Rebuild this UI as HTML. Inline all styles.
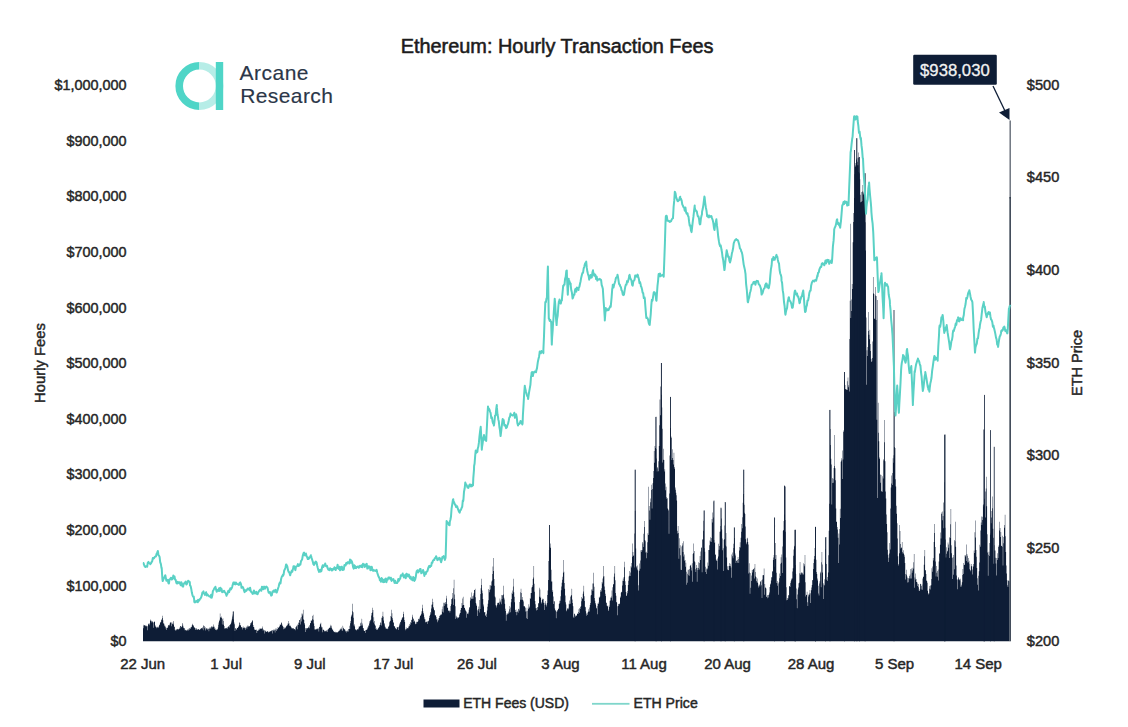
<!DOCTYPE html>
<html><head><meta charset="utf-8">
<style>
html,body{margin:0;padding:0;background:#fff;}
body{width:1128px;height:727px;position:relative;overflow:hidden;font-family:"Liberation Sans",sans-serif;color:#262626;}
.t{position:absolute;white-space:nowrap;line-height:1;}
</style></head><body>
<svg width="1128" height="727" viewBox="0 0 1128 727" style="position:absolute;left:0;top:0">
<path d="M143.00,641.3V624.8H143.41V628.2H143.83V625.9H144.24V625.0H144.65V625.1H145.07V625.5H145.48V626.2H145.89V625.4H146.31V626.4H146.72V626.1H147.13V630.2H147.55V626.2H147.96V624.6H148.37V624.0H148.79V623.1H149.20V623.7H149.61V625.2H150.03V620.8H150.44V619.4H150.85V620.5H151.27V621.2H151.68V622.5H152.09V621.0H152.51V622.0H152.92V622.7H153.33V627.8H153.75V622.0H154.16V621.3H154.57V622.1H154.99V625.2H155.40V626.4H155.81V626.8H156.23V627.2H156.64V628.2H157.05V627.6H157.47V626.7H157.88V627.6H158.29V627.6H158.71V626.2H159.12V624.7H159.53V624.8H159.95V623.0H160.36V622.1H160.77V621.7H161.19V619.6H161.60V619.7H162.01V615.8H162.43V618.1H162.84V620.2H163.25V623.7H163.67V623.0H164.08V624.4H164.49V626.3H164.91V625.8H165.32V627.1H165.73V628.6H166.15V627.7H166.56V630.0H166.97V628.1H167.39V627.8H167.80V626.4H168.21V625.3H168.63V625.0H169.04V624.6H169.45V625.6H169.87V622.8H170.28V622.6H170.70V622.3H171.11V626.2H171.52V622.6H171.94V624.2H172.35V623.8H172.76V622.4H173.18V620.9H173.59V624.4H174.00V627.0H174.42V626.5H174.83V630.0H175.24V630.7H175.66V629.6H176.07V630.3H176.48V629.2H176.90V628.9H177.31V629.4H177.72V628.8H178.14V629.5H178.55V629.3H178.96V628.9H179.38V627.4H179.79V628.4H180.20V626.1H180.62V626.1H181.03V627.2H181.44V626.7H181.86V626.2H182.27V623.0H182.68V624.4H183.10V626.5H183.51V628.0H183.92V628.4H184.34V628.1H184.75V630.2H185.16V630.3H185.58V629.7H185.99V630.1H186.40V631.1H186.82V630.1H187.23V630.5H187.64V629.3H188.06V630.4H188.47V628.8H188.88V630.0H189.30V628.5H189.71V628.1H190.12V628.9H190.54V627.6H190.95V626.9H191.36V627.3H191.78V625.4H192.19V624.8H192.60V623.8H193.02V624.9H193.43V626.1H193.84V627.2H194.26V627.3H194.67V628.0H195.08V630.0H195.50V628.6H195.91V628.1H196.32V628.7H196.74V629.9H197.15V629.3H197.56V629.8H197.98V629.0H198.39V629.1H198.80V630.0H199.22V629.4H199.63V629.9H200.04V629.2H200.46V628.7H200.87V628.4H201.28V628.1H201.70V628.2H202.11V628.4H202.52V627.2H202.94V630.2H203.35V625.2H203.76V625.9H204.18V626.3H204.59V628.2H205.00V627.2H205.42V630.5H205.83V629.2H206.24V628.1H206.66V628.6H207.07V629.8H207.48V628.4H207.90V629.0H208.31V628.4H208.72V631.3H209.14V628.8H209.55V627.6H209.96V628.6H210.38V627.3H210.79V628.5H211.20V626.8H211.62V626.3H212.03V627.4H212.44V626.5H212.86V627.0H213.27V624.5H213.68V626.5H214.10V626.8H214.51V628.7H214.92V628.3H215.34V629.9H215.75V629.4H216.16V629.6H216.58V630.2H216.99V629.7H217.40V629.0H217.82V627.4H218.23V624.8H218.64V622.5H219.06V620.9H219.47V619.7H219.88V613.6H220.30V617.5H220.71V617.2H221.12V618.1H221.54V616.5H221.95V624.4H222.36V619.3H222.78V618.2H223.19V621.0H223.60V624.7H224.02V626.1H224.43V628.5H224.85V628.7H225.26V628.3H225.67V628.1H226.09V628.3H226.50V627.8H226.91V629.0H227.33V627.6H227.74V627.2H228.15V626.6H228.57V626.3H228.98V627.4H229.39V625.3H229.81V624.9H230.22V623.7H230.63V624.3H231.05V622.5H231.46V620.4H231.87V618.7H232.29V616.4H232.70V614.4H233.11V611.5H233.53V619.6H233.94V622.5H234.35V624.2H234.77V630.9H235.18V628.4H235.59V628.0H236.01V629.7H236.42V629.2H236.83V627.8H237.25V628.0H237.66V628.1H238.07V626.9H238.49V626.3H238.90V625.2H239.31V622.3H239.73V623.1H240.14V624.9H240.55V625.6H240.97V627.5H241.38V627.0H241.79V626.7H242.21V629.5H242.62V627.8H243.03V626.6H243.45V628.1H243.86V628.2H244.27V627.6H244.69V627.5H245.10V628.0H245.51V629.7H245.93V626.4H246.34V627.5H246.75V628.8H247.17V625.6H247.58V626.7H247.99V626.4H248.41V625.7H248.82V627.0H249.23V626.0H249.65V625.9H250.06V623.0H250.47V624.7H250.89V623.3H251.30V622.2H251.71V621.7H252.13V621.0H252.54V620.1H252.95V625.1H253.37V626.9H253.78V627.0H254.19V630.1H254.61V628.8H255.02V630.1H255.43V629.8H255.85V630.0H256.26V629.5H256.67V632.9H257.09V630.9H257.50V630.7H257.91V629.7H258.33V630.7H258.74V629.4H259.15V629.8H259.57V628.6H259.98V628.7H260.39V628.5H260.81V628.7H261.22V628.2H261.63V629.0H262.05V628.2H262.46V626.6H262.87V630.8H263.29V629.3H263.70V629.9H264.11V630.3H264.53V633.4H264.94V630.7H265.35V630.8H265.77V632.1H266.18V631.8H266.59V631.8H267.01V631.2H267.42V631.3H267.83V631.6H268.25V632.2H268.66V632.5H269.07V631.4H269.49V631.9H269.90V630.9H270.31V631.3H270.73V631.4H271.14V630.8H271.55V630.6H271.97V629.9H272.38V633.6H272.79V630.3H273.21V630.7H273.62V629.5H274.03V629.5H274.45V630.5H274.86V632.5H275.27V628.6H275.69V630.0H276.10V630.9H276.51V628.6H276.93V629.2H277.34V629.2H277.75V627.1H278.17V627.6H278.58V628.1H279.00V627.0H279.41V626.1H279.82V624.6H280.24V624.5H280.65V625.0H281.06V623.0H281.48V622.3H281.89V624.4H282.30V625.8H282.72V626.2H283.13V629.2H283.54V627.0H283.96V628.6H284.37V628.4H284.78V627.0H285.20V628.3H285.61V627.5H286.02V626.5H286.44V625.8H286.85V625.8H287.26V625.0H287.68V623.6H288.09V623.7H288.50V620.9H288.92V623.3H289.33V625.6H289.74V626.1H290.16V625.5H290.57V626.4H290.98V627.5H291.40V627.5H291.81V628.8H292.22V628.1H292.64V628.4H293.05V628.7H293.46V628.1H293.88V629.5H294.29V628.9H294.70V629.0H295.12V627.2H295.53V630.3H295.94V627.3H296.36V626.1H296.77V625.6H297.18V624.6H297.60V629.3H298.01V625.0H298.42V622.6H298.84V623.1H299.25V619.9H299.66V619.9H300.08V618.4H300.49V624.4H300.90V617.0H301.32V621.5H301.73V613.4H302.14V615.6H302.56V613.7H302.97V609.7H303.38V619.2H303.80V620.0H304.21V623.0H304.62V624.5H305.04V628.2H305.45V632.0H305.86V628.1H306.28V629.4H306.69V628.1H307.10V627.9H307.52V628.5H307.93V627.8H308.34V627.3H308.76V626.3H309.17V624.9H309.58V628.2H310.00V622.9H310.41V623.2H310.82V620.5H311.24V620.3H311.65V621.0H312.06V619.2H312.48V616.0H312.89V614.7H313.30V619.8H313.72V623.5H314.13V625.9H314.54V629.6H314.96V629.1H315.37V629.4H315.78V630.0H316.20V629.0H316.61V628.7H317.02V629.2H317.44V628.6H317.85V628.4H318.26V628.6H318.68V631.5H319.09V626.8H319.50V627.0H319.92V624.4H320.33V623.8H320.74V622.7H321.16V626.4H321.57V627.4H321.98V627.2H322.40V632.2H322.81V629.6H323.22V629.7H323.64V630.1H324.05V630.7H324.46V631.6H324.88V630.7H325.29V631.6H325.70V630.9H326.12V631.5H326.53V630.2H326.94V630.3H327.36V632.0H327.77V629.2H328.18V629.2H328.60V628.5H329.01V628.0H329.42V627.5H329.84V628.0H330.25V626.3H330.66V624.7H331.08V625.8H331.49V627.8H331.90V628.8H332.32V629.7H332.73V629.7H333.15V631.4H333.56V631.1H333.97V631.9H334.39V631.8H334.80V632.4H335.21V631.8H335.63V632.6H336.04V632.1H336.45V632.6H336.87V632.8H337.28V632.2H337.69V632.0H338.11V631.6H338.52V631.3H338.93V630.4H339.35V630.8H339.76V629.4H340.17V629.5H340.59V628.4H341.00V629.1H341.41V627.4H341.83V630.6H342.24V630.7H342.65V625.7H343.07V627.8H343.48V628.2H343.89V628.9H344.31V629.5H344.72V629.3H345.13V630.6H345.55V631.4H345.96V631.1H346.37V632.4H346.79V630.8H347.20V630.5H347.61V631.8H348.03V631.6H348.44V629.1H348.85V629.0H349.27V625.8H349.68V629.0H350.09V623.3H350.51V620.9H350.92V616.8H351.33V615.4H351.75V614.5H352.16V611.3H352.57V603.7H352.99V612.2H353.40V617.7H353.81V625.4H354.23V624.2H354.64V626.5H355.05V629.2H355.47V629.6H355.88V629.9H356.29V630.6H356.71V629.5H357.12V629.0H357.53V629.5H357.95V629.4H358.36V628.2H358.77V626.5H359.19V626.8H359.60V626.3H360.01V625.9H360.43V623.3H360.84V622.4H361.25V625.5H361.67V618.7H362.08V623.5H362.49V625.6H362.91V627.9H363.32V628.2H363.73V630.4H364.15V631.0H364.56V630.9H364.97V633.0H365.39V630.3H365.80V630.1H366.21V629.8H366.63V629.8H367.04V629.2H367.45V627.4H367.87V627.4H368.28V625.2H368.69V626.0H369.11V623.6H369.52V621.2H369.93V621.3H370.35V620.1H370.76V619.6H371.17V615.5H371.59V612.9H372.00V612.5H372.41V607.7H372.83V609.9H373.24V622.6H373.65V617.3H374.07V621.1H374.48V624.2H374.89V624.9H375.31V626.1H375.72V628.9H376.13V628.3H376.55V630.0H376.96V629.9H377.37V629.3H377.79V628.8H378.20V627.7H378.61V627.7H379.03V626.9H379.44V625.5H379.85V625.0H380.27V622.3H380.68V623.0H381.09V625.5H381.51V617.7H381.92V617.7H382.33V615.9H382.75V611.7H383.16V616.8H383.57V620.6H383.99V622.9H384.40V624.2H384.81V626.4H385.23V627.2H385.64V628.6H386.05V628.6H386.47V628.8H386.88V629.2H387.30V628.3H387.71V629.0H388.12V626.5H388.54V626.7H388.95V625.4H389.36V622.2H389.78V621.2H390.19V620.7H390.60V616.0H391.02V616.8H391.43V609.7H391.84V613.2H392.26V618.1H392.67V619.8H393.08V622.0H393.50V622.9H393.91V625.9H394.32V626.3H394.74V626.7H395.15V628.0H395.56V628.4H395.98V629.4H396.39V629.1H396.80V627.2H397.22V627.6H397.63V627.0H398.04V626.9H398.46V630.0H398.87V626.3H399.28V623.6H399.70V624.7H400.11V621.8H400.52V622.3H400.94V620.3H401.35V619.8H401.76V618.4H402.18V617.2H402.59V617.5H403.00V614.0H403.42V611.7H403.83V617.2H404.24V620.0H404.66V622.1H405.07V629.0H405.48V630.3H405.90V627.2H406.31V629.3H406.72V628.4H407.14V627.9H407.55V628.2H407.96V628.2H408.38V626.8H408.79V625.8H409.20V626.2H409.62V624.1H410.03V624.7H410.44V621.9H410.86V623.0H411.27V619.7H411.68V620.0H412.10V616.8H412.51V614.7H412.92V618.2H413.34V618.9H413.75V622.1H414.16V620.4H414.58V621.2H414.99V624.2H415.40V623.7H415.82V622.2H416.23V621.7H416.64V623.8H417.06V621.7H417.47V622.0H417.88V621.2H418.30V618.9H418.71V618.8H419.12V619.6H419.54V617.4H419.95V615.7H420.36V615.7H420.78V614.7H421.19V613.7H421.60V611.3H422.02V608.2H422.43V604.7H422.84V611.2H423.26V613.0H423.67V614.5H424.08V617.3H424.50V619.3H424.91V619.2H425.32V622.2H425.74V622.3H426.15V621.6H426.56V622.1H426.98V624.0H427.39V621.2H427.80V621.7H428.22V620.8H428.63V620.7H429.04V618.1H429.46V615.9H429.87V614.9H430.28V612.0H430.70V613.4H431.11V608.5H431.52V604.8H431.94V604.5H432.35V598.8H432.76V602.1H433.18V608.4H433.59V606.9H434.00V609.9H434.42V610.6H434.83V615.2H435.24V615.2H435.66V615.6H436.07V617.1H436.48V619.6H436.90V618.9H437.31V622.2H437.72V620.4H438.14V620.2H438.55V618.3H438.96V617.9H439.38V615.7H439.79V616.0H440.20V615.1H440.62V614.6H441.03V614.5H441.45V614.4H441.86V609.3H442.27V611.8H442.69V606.6H443.10V612.4H443.51V602.8H443.93V606.0H444.34V603.3H444.75V602.4H445.17V602.1H445.58V604.2H445.99V598.5H446.41V595.8H446.82V604.0H447.23V607.9H447.65V607.4H448.06V610.6H448.47V610.7H448.89V610.9H449.30V610.4H449.71V612.5H450.13V611.0H450.54V605.9H450.95V604.2H451.37V598.9H451.78V599.2H452.19V597.8H452.61V592.9H453.02V605.1H453.43V588.3H453.85V579.8H454.26V594.6H454.67V599.2H455.09V606.2H455.50V619.0H455.91V615.7H456.33V616.7H456.74V618.0H457.15V618.4H457.57V617.0H457.98V617.2H458.39V617.9H458.81V617.1H459.22V614.8H459.63V613.6H460.05V612.9H460.46V609.9H460.87V608.1H461.29V608.0H461.70V602.9H462.11V605.6H462.53V598.5H462.94V596.8H463.35V605.0H463.77V605.1H464.18V608.0H464.59V607.8H465.01V609.4H465.42V610.4H465.83V611.3H466.25V617.7H466.66V611.8H467.07V613.7H467.49V613.5H467.90V614.2H468.31V612.4H468.73V609.8H469.14V607.8H469.55V607.0H469.97V600.6H470.38V597.2H470.79V598.3H471.21V599.0H471.62V592.6H472.03V596.3H472.45V598.7H472.86V598.7H473.27V595.6H473.69V593.2H474.10V589.9H474.51V590.1H474.93V588.8H475.34V597.2H475.75V603.1H476.17V605.9H476.58V604.6H476.99V609.7H477.41V616.1H477.82V610.7H478.23V609.1H478.65V606.6H479.06V612.6H479.47V600.0H479.89V609.1H480.30V594.1H480.71V588.3H481.13V578.8H481.54V584.9H481.95V590.6H482.37V593.3H482.78V599.1H483.19V604.5H483.61V606.4H484.02V611.9H484.43V612.4H484.85V612.1H485.26V615.9H485.67V615.0H486.09V617.0H486.50V613.8H486.91V610.5H487.33V606.8H487.74V603.8H488.15V600.3H488.57V589.0H488.98V589.9H489.39V592.2H489.81V584.9H490.22V589.5H490.63V585.6H491.05V585.7H491.46V581.6H491.87V580.4H492.29V574.0H492.70V566.4H493.11V557.9H493.53V570.9H493.94V579.1H494.35V585.8H494.77V596.6H495.18V597.4H495.60V605.2H496.01V605.8H496.42V607.5H496.84V605.1H497.25V603.2H497.66V602.7H498.08V603.1H498.49V602.7H498.90V601.7H499.32V604.6H499.73V598.4H500.14V602.3H500.56V600.6H500.97V604.2H501.38V594.9H501.80V599.0H502.21V595.4H502.62V595.1H503.04V594.4H503.45V585.8H503.86V597.8H504.28V599.6H504.69V603.7H505.10V608.8H505.52V611.0H505.93V620.7H506.34V614.8H506.76V613.2H507.17V613.5H507.58V614.4H508.00V613.7H508.41V611.6H508.82V612.7H509.24V609.2H509.65V605.9H510.06V607.4H510.48V612.2H510.89V602.3H511.30V598.9H511.72V592.7H512.13V594.1H512.54V590.5H512.96V586.5H513.37V578.8H513.78V592.3H514.20V596.7H514.61V602.2H515.02V612.1H515.44V610.1H515.85V609.5H516.26V612.0H516.68V615.3H517.09V611.9H517.50V610.7H517.92V612.7H518.33V609.1H518.74V608.8H519.16V610.5H519.57V602.0H519.98V599.7H520.40V592.3H520.81V588.8H521.22V593.1H521.64V599.7H522.05V597.1H522.46V599.8H522.88V600.3H523.29V601.5H523.70V606.2H524.12V606.3H524.53V606.2H524.94V607.6H525.36V611.5H525.77V607.7H526.18V618.2H526.60V611.2H527.01V619.1H527.42V610.8H527.84V607.7H528.25V609.0H528.66V604.2H529.08V606.5H529.49V607.7H529.90V598.1H530.32V599.1H530.73V593.0H531.14V593.1H531.56V587.5H531.97V587.0H532.38V585.3H532.80V579.0H533.21V577.4H533.62V565.9H534.04V583.7H534.45V591.7H534.86V601.0H535.28V604.3H535.69V608.3H536.10V608.0H536.52V610.4H536.93V610.1H537.34V607.1H537.76V607.3H538.17V602.9H538.58V603.6H539.00V596.8H539.41V587.8H539.82V589.6H540.24V598.0H540.65V596.7H541.06V603.6H541.48V602.2H541.89V599.9H542.30V599.2H542.72V598.4H543.13V602.7H543.54V599.1H543.96V602.8H544.37V610.0H544.78V605.1H545.20V601.0H545.61V603.4H546.02V604.7H546.44V606.5H546.85V602.9H547.26V594.9H547.68V590.6H548.09V580.1H548.50V561.1H548.92V550.1H549.33V524.9H549.75V546.8H550.16V543.4H550.57V548.0H550.99V569.7H551.40V581.6H551.81V581.5H552.23V592.1H552.64V590.3H553.05V596.5H553.47V604.0H553.88V601.1H554.29V601.5H554.71V608.6H555.12V610.1H555.53V610.8H555.95V618.3H556.36V611.6H556.77V611.8H557.19V610.6H557.60V610.1H558.01V608.4H558.43V609.1H558.84V603.9H559.25V600.7H559.67V603.3H560.08V596.3H560.49V600.7H560.91V590.3H561.32V586.6H561.73V582.7H562.15V576.8H562.56V579.8H562.97V572.8H563.39V559.9H563.80V571.8H564.21V582.9H564.63V588.8H565.04V595.5H565.45V602.3H565.87V604.6H566.28V611.3H566.69V610.3H567.11V608.7H567.52V608.2H567.93V607.8H568.35V609.2H568.76V603.7H569.17V604.2H569.59V600.6H570.00V603.8H570.41V596.7H570.83V595.7H571.24V595.1H571.65V588.8H572.07V599.4H572.48V603.0H572.89V606.3H573.31V616.7H573.72V618.0H574.13V613.4H574.55V613.9H574.96V615.3H575.37V616.7H575.79V616.0H576.20V615.2H576.61V615.8H577.03V613.9H577.44V613.2H577.85V614.1H578.27V611.9H578.68V609.3H579.09V607.9H579.51V613.0H579.92V609.0H580.33V607.1H580.75V606.1H581.16V601.3H581.57V596.9H581.99V598.3H582.40V598.7H582.81V593.8H583.23V591.4H583.64V585.8H584.05V596.2H584.47V601.0H584.88V606.8H585.29V607.2H585.71V611.2H586.12V613.6H586.53V615.7H586.95V613.3H587.36V615.0H587.77V612.1H588.19V609.2H588.60V611.5H589.01V611.4H589.43V607.5H589.84V605.0H590.25V603.0H590.67V595.6H591.08V595.0H591.49V589.4H591.91V589.4H592.32V583.5H592.73V590.9H593.15V572.8H593.56V583.4H593.97V586.8H594.39V597.9H594.80V600.8H595.21V603.1H595.63V604.5H596.04V607.7H596.45V608.6H596.87V606.0H597.28V614.2H597.69V603.5H598.11V604.0H598.52V602.4H598.93V596.9H599.35V598.0H599.76V596.5H600.17V591.8H600.59V589.9H601.00V591.6H601.41V588.2H601.83V582.1H602.24V583.4H602.65V578.6H603.07V576.4H603.48V565.9H603.90V576.2H604.31V586.6H604.72V589.9H605.14V593.8H605.55V596.1H605.96V602.5H606.38V602.9H606.79V605.8H607.20V605.8H607.62V606.6H608.03V609.4H608.44V611.1H608.86V605.6H609.27V607.1H609.68V600.7H610.10V600.4H610.51V597.6H610.92V598.1H611.34V596.5H611.75V590.4H612.16V587.2H612.58V600.4H612.99V584.2H613.40V584.2H613.82V576.8H614.23V573.5H614.64V565.9H615.06V580.2H615.47V592.9H615.88V595.8H616.30V602.0H616.71V602.6H617.12V606.3H617.54V615.2H617.95V606.1H618.36V604.1H618.78V603.7H619.19V603.4H619.60V604.3H620.02V597.7H620.43V596.5H620.84V592.7H621.26V591.8H621.67V592.0H622.08V585.6H622.50V580.7H622.91V578.6H623.32V580.9H623.74V577.1H624.15V561.7H624.56V567.2H624.98V581.2H625.39V585.1H625.80V592.0H626.22V596.1H626.63V595.6H627.04V591.0H627.46V593.2H627.87V584.9H628.28V580.7H628.70V576.4H629.11V570.9H629.52V575.8H629.94V576.1H630.35V572.4H630.76V566.2H631.18V567.6H631.59V563.0H632.00V556.8H632.42V543.5H632.83V552.1H633.24V555.9H633.66V555.2H634.07V567.4H634.48V533.5H634.90V510.8H635.31V469.8H635.72V548.6H636.14V566.2H636.55V567.6H636.96V569.4H637.38V565.4H637.79V570.6H638.20V590.5H638.62V585.3H639.03V570.8H639.44V563.5H639.86V568.8H640.27V560.4H640.68V550.2H641.10V550.1H641.51V552.1H641.92V550.2H642.34V541.9H642.75V543.6H643.16V547.0H643.58V533.7H643.99V526.9H644.40V520.9H644.82V540.1H645.23V541.3H645.64V552.5H646.06V558.3H646.47V551.7H646.88V553.1H647.30V542.3H647.71V533.3H648.12V535.0H648.54V486.7H648.95V506.0H649.36V510.5H649.78V519.8H650.19V498.4H650.60V502.3H651.02V484.7H651.43V490.1H651.84V508.5H652.26V489.1H652.67V483.2H653.08V477.9H653.50V470.9H653.91V451.0H654.32V462.8H654.74V445.9H655.15V448.1H655.56V416.9H655.98V449.0H656.39V458.6H656.80V471.4H657.22V467.1H657.63V468.2H658.05V471.3H658.46V461.3H658.87V446.1H659.29V425.2H659.70V399.4H660.11V386.5H660.53V415.3H660.94V363.0H661.35V394.8H661.77V407.6H662.18V428.8H662.59V462.4H663.01V448.7H663.42V459.8H663.83V459.9H664.25V471.4H664.66V469.3H665.07V483.6H665.49V490.3H665.90V486.7H666.31V497.2H666.73V499.0H667.14V498.0H667.55V508.6H667.97V509.6H668.38V510.5H668.79V533.7H669.21V493.6H669.62V455.4H670.03V396.9H670.45V428.0H670.86V436.6H671.27V437.8H671.69V460.1H672.10V449.2H672.51V457.9H672.93V459.9H673.34V464.5H673.75V452.7H674.17V468.7H674.58V466.9H674.99V487.5H675.41V489.8H675.82V492.8H676.23V495.2H676.65V500.5H677.06V533.5H677.47V530.7H677.89V526.0H678.30V533.1H678.71V558.7H679.13V548.2H679.54V538.3H679.95V545.3H680.37V555.2H680.78V569.8H681.19V570.1H681.61V546.6H682.02V543.3H682.43V545.6H682.85V551.9H683.26V541.3H683.67V556.5H684.09V560.7H684.50V554.6H684.91V559.9H685.33V566.7H685.74V562.8H686.15V571.7H686.57V584.7H686.98V582.7H687.39V573.7H687.81V569.7H688.22V575.3H688.63V569.8H689.05V575.8H689.46V569.0H689.87V565.9H690.29V565.2H690.70V564.7H691.11V570.4H691.53V567.6H691.94V563.2H692.35V581.8H692.77V553.9H693.18V553.1H693.59V543.5H694.01V551.0H694.42V561.3H694.83V562.2H695.25V569.3H695.66V571.9H696.07V565.0H696.49V567.9H696.90V581.7H697.31V567.8H697.73V570.1H698.14V568.1H698.55V562.2H698.97V569.6H699.38V563.0H699.79V556.1H700.21V560.0H700.62V551.6H701.03V547.8H701.45V547.5H701.86V572.2H702.27V539.3H702.69V539.7H703.10V530.8H703.51V520.8H703.93V510.6H704.34V548.3H704.75V551.7H705.17V566.8H705.58V572.0H705.99V574.1H706.41V568.5H706.82V569.5H707.23V568.6H707.65V562.5H708.06V565.7H708.47V550.0H708.89V550.0H709.30V545.3H709.71V540.5H710.13V537.2H710.54V541.5H710.95V541.9H711.37V538.0H711.78V519.1H712.20V522.5H712.61V512.4H713.02V501.6H713.44V517.5H713.85V539.9H714.26V542.9H714.68V542.2H715.09V554.7H715.50V554.4H715.92V559.4H716.33V560.6H716.74V561.0H717.16V569.4H717.57V558.5H717.98V556.4H718.40V543.8H718.81V549.7H719.22V546.1H719.64V531.8H720.05V531.5H720.46V526.1H720.88V508.4H721.29V518.5H721.70V529.6H722.12V538.5H722.53V550.2H722.94V548.2H723.36V570.9H723.77V540.1H724.18V538.9H724.60V525.5H725.01V545.5H725.42V502.7H725.84V533.0H726.25V546.5H726.66V557.4H727.08V566.2H727.49V569.4H727.90V570.3H728.32V569.9H728.73V565.9H729.14V566.0H729.56V563.0H729.97V563.7H730.38V566.1H730.80V567.5H731.21V577.7H731.62V554.5H732.04V552.5H732.45V556.2H732.86V558.3H733.28V543.8H733.69V547.9H734.10V538.1H734.52V527.7H734.93V553.5H735.34V555.6H735.76V563.0H736.17V561.1H736.58V560.6H737.00V559.9H737.41V562.7H737.82V557.0H738.24V558.9H738.65V562.9H739.06V550.4H739.48V547.1H739.89V542.3H740.30V547.4H740.72V537.8H741.13V531.7H741.54V524.0H741.96V528.3H742.37V517.3H742.78V502.7H743.20V494.1H743.61V469.8H744.02V504.7H744.44V512.8H744.85V514.1H745.26V526.4H745.68V539.2H746.09V542.6H746.50V544.2H746.92V537.7H747.33V538.5H747.74V541.9H748.16V544.6H748.57V573.4H748.98V563.2H749.40V572.6H749.81V593.7H750.22V573.0H750.64V587.8H751.05V575.5H751.46V580.9H751.88V570.0H752.29V572.4H752.70V569.8H753.12V569.3H753.53V568.9H753.94V567.7H754.36V578.5H754.77V564.0H755.18V576.4H755.60V571.9H756.01V581.0H756.42V577.3H756.84V582.6H757.25V578.5H757.66V582.8H758.08V587.6H758.49V585.7H758.90V584.3H759.32V585.3H759.73V586.5H760.14V581.8H760.56V581.3H760.97V580.3H761.38V585.3H761.80V598.1H762.21V579.6H762.62V575.2H763.04V575.2H763.45V575.1H763.86V568.5H764.28V594.8H764.69V584.0H765.10V587.3H765.52V588.0H765.93V588.5H766.35V596.9H766.76V596.6H767.17V595.0H767.59V598.3H768.00V597.4H768.41V595.1H768.83V594.6H769.24V592.4H769.65V587.0H770.07V584.6H770.48V583.4H770.89V580.6H771.31V577.3H771.72V577.3H772.13V571.1H772.55V571.7H772.96V560.0H773.37V557.4H773.79V554.9H774.20V566.7H774.61V517.4H775.03V559.1H775.44V543.1H775.85V555.0H776.27V572.8H776.68V583.1H777.09V581.0H777.51V585.8H777.92V583.5H778.33V594.8H778.75V582.2H779.16V578.2H779.57V573.6H779.99V576.1H780.40V563.8H780.81V557.2H781.23V562.8H781.64V554.6H782.05V573.0H782.47V546.4H782.88V530.7H783.29V530.0H783.71V521.0H784.12V485.8H784.53V514.6H784.95V519.9H785.36V531.7H785.77V557.4H786.19V587.2H786.60V600.3H787.01V598.0H787.43V600.1H787.84V598.4H788.25V595.0H788.67V595.4H789.08V586.0H789.49V586.2H789.91V587.0H790.32V583.0H790.73V581.2H791.15V579.7H791.56V578.5H791.97V578.6H792.39V571.6H792.80V568.3H793.21V555.7H793.63V549.5H794.04V545.7H794.45V546.5H794.87V529.9H795.28V565.1H795.69V573.8H796.11V588.6H796.52V599.3H796.93V608.2H797.35V594.4H797.76V589.4H798.17V587.6H798.59V583.3H799.00V582.8H799.41V573.3H799.83V561.9H800.24V573.6H800.65V574.9H801.07V572.2H801.48V573.2H801.89V572.6H802.31V573.3H802.72V574.6H803.13V574.5H803.55V563.2H803.96V566.3H804.37V564.2H804.79V554.9H805.20V582.3H805.61V596.6H806.03V594.9H806.44V594.7H806.85V591.8H807.27V602.3H807.68V606.0H808.09V594.5H808.51V596.4H808.92V595.0H809.33V593.5H809.75V590.0H810.16V602.9H810.57V593.2H810.99V587.4H811.40V590.2H811.81V584.9H812.23V580.2H812.64V580.1H813.05V569.0H813.47V563.0H813.88V559.3H814.29V555.9H814.71V548.1H815.12V526.9H815.53V547.8H815.95V559.7H816.36V572.0H816.77V573.9H817.19V578.4H817.60V580.4H818.01V585.8H818.43V593.5H818.84V595.6H819.25V583.4H819.67V581.2H820.08V571.8H820.50V573.2H820.91V587.2H821.32V562.2H821.74V551.9H822.15V564.6H822.56V572.4H822.98V583.2H823.39V599.1H823.80V584.8H824.22V579.2H824.63V585.6H825.04V562.6H825.46V549.0H825.87V536.9H826.28V564.1H826.70V579.7H827.11V577.0H827.52V580.9H827.94V572.4H828.35V555.2H828.76V530.8H829.18V503.7H829.59V409.9H830.00V429.1H830.42V444.9H830.83V458.8H831.24V464.6H831.66V504.4H832.07V483.1H832.48V477.9H832.90V478.8H833.31V482.7H833.72V467.9H834.14V466.0H834.55V434.9H834.96V468.3H835.38V480.2H835.79V508.5H836.20V522.0H836.62V521.6H837.03V527.0H837.44V529.6H837.86V537.7H838.27V563.0H838.68V533.4H839.10V529.0H839.51V544.5H839.92V508.7H840.34V518.1H840.75V461.8H841.16V460.6H841.58V458.3H841.99V478.9H842.40V450.5H842.82V459.5H843.23V430.6H843.64V432.1H844.06V372.1H844.47V379.8H844.88V385.1H845.30V389.0H845.71V389.3H846.12V389.5H846.54V389.7H846.95V381.3H847.36V390.0H847.78V377.6H848.19V387.2H848.60V385.3H849.02V391.6H849.43V339.1H849.84V300.7H850.26V223.8H850.67V318.0H851.08V310.9H851.50V299.4H851.91V284.0H852.32V288.9H852.74V242.3H853.15V222.1H853.56V212.9H853.98V198.0H854.39V174.2H854.80V167.1H855.22V165.5H855.63V163.0H856.04V159.5H856.46V138.2H856.87V157.7H857.28V161.7H857.70V165.2H858.11V152.5H858.52V157.4H858.94V172.4H859.35V173.5H859.76V179.3H860.18V194.8H860.59V202.3H861.00V192.1H861.42V201.9H861.83V201.0H862.24V191.5H862.66V184.9H863.07V192.4H863.48V194.4H863.90V190.7H864.31V190.2H864.72V173.3H865.14V222.3H865.55V250.6H865.96V317.4H866.38V384.8H866.79V350.3H867.20V355.9H867.62V346.9H868.03V330.9H868.44V312.0H868.86V334.7H869.27V339.2H869.68V329.7H870.10V343.9H870.51V351.1H870.92V358.7H871.34V361.9H871.75V361.2H872.16V358.1H872.58V341.6H872.99V277.0H873.40V293.3H873.82V294.0H874.23V318.5H874.65V319.0H875.06V295.4H875.47V287.0H875.89V319.9H876.30V296.0H876.71V419.8H877.13V498.1H877.54V300.0H877.95V402.8H878.37V432.7H878.78V441.3H879.19V457.5H879.61V458.9H880.02V474.5H880.43V482.7H880.85V475.1H881.26V490.9H881.67V491.7H882.09V491.8H882.50V476.2H882.91V478.6H883.33V459.3H883.74V460.5H884.15V442.3H884.57V419.9H884.98V461.3H885.39V491.6H885.81V498.4H886.22V514.5H886.63V524.1H887.05V532.2H887.46V549.7H887.87V554.8H888.29V562.0H888.70V557.7H889.11V553.4H889.53V543.1H889.94V549.4H890.35V508.4H890.77V487.4H891.18V483.5H891.59V475.4H892.01V484.9H892.42V473.0H892.83V458.2H893.25V462.7H893.66V455.3H894.07V446.9H894.49V411.9H894.90V448.0H895.31V479.3H895.73V486.5H896.14V505.8H896.55V513.8H896.97V523.3H897.38V538.4H897.79V556.2H898.21V565.4H898.62V564.1H899.03V553.3H899.45V525.1H899.86V531.0H900.27V543.9H900.69V548.6H901.10V548.0H901.51V547.3H901.93V542.1H902.34V552.0H902.75V553.4H903.17V553.6H903.58V550.3H903.99V554.8H904.41V556.7H904.82V563.0H905.23V579.5H905.65V574.0H906.06V569.7H906.47V574.7H906.89V576.6H907.30V582.5H907.71V578.1H908.13V578.3H908.54V582.2H908.95V578.5H909.37V576.1H909.78V574.4H910.19V578.5H910.61V569.1H911.02V568.6H911.43V578.4H911.85V572.7H912.26V570.6H912.67V567.8H913.09V562.3H913.50V568.7H913.91V553.9H914.33V587.8H914.74V577.4H915.15V573.5H915.57V579.5H915.98V579.1H916.39V582.1H916.81V582.1H917.22V585.9H917.63V583.6H918.05V583.9H918.46V587.2H918.87V590.8H919.29V590.9H919.70V589.2H920.11V584.0H920.53V583.8H920.94V589.6H921.35V585.9H921.77V584.6H922.18V589.7H922.59V578.5H923.01V577.1H923.42V576.5H923.83V564.7H924.25V556.3H924.66V549.9H925.07V570.0H925.49V570.5H925.90V573.9H926.31V580.5H926.73V581.1H927.14V582.8H927.55V590.7H927.97V594.4H928.38V593.3H928.80V593.6H929.21V588.8H929.62V585.9H930.04V589.5H930.45V585.6H930.86V585.3H931.28V578.9H931.69V568.2H932.10V571.8H932.52V566.6H932.93V558.1H933.34V560.5H933.76V542.1H934.17V533.1H934.58V523.9H935.00V547.0H935.41V561.4H935.82V576.6H936.24V566.1H936.65V572.7H937.06V571.1H937.48V576.8H937.89V569.6H938.30V580.5H938.72V561.4H939.13V554.1H939.54V553.1H939.96V544.8H940.37V532.4H940.78V538.5H941.20V512.6H941.61V514.1H942.02V511.6H942.44V520.2H942.85V515.9H943.26V502.4H943.68V528.3H944.09V482.3H944.50V511.3H944.92V527.8H945.33V539.4H945.74V557.5H946.16V547.2H946.57V553.7H946.98V551.6H947.40V550.8H947.81V542.6H948.22V544.6H948.64V547.8H949.05V557.9H949.46V537.3H949.88V538.0H950.29V524.2H950.70V509.1H951.12V545.3H951.53V553.3H951.94V558.0H952.36V578.9H952.77V557.0H953.18V574.7H953.60V555.1H954.01V569.2H954.42V539.9H954.84V541.3H955.25V521.8H955.66V546.8H956.08V565.6H956.49V575.4H956.90V579.5H957.32V589.2H957.73V579.6H958.14V578.3H958.56V576.9H958.97V580.1H959.38V579.1H959.80V580.6H960.21V578.7H960.62V586.8H961.04V586.5H961.45V584.8H961.86V582.3H962.28V574.9H962.69V569.1H963.10V574.0H963.52V563.1H963.93V564.9H964.34V564.7H964.76V555.3H965.17V556.4H965.58V555.3H966.00V560.9H966.41V544.4H966.82V553.9H967.24V555.8H967.65V562.4H968.06V557.9H968.48V562.3H968.89V560.7H969.30V569.3H969.72V563.8H970.13V570.1H970.54V571.2H970.96V566.2H971.37V564.1H971.78V566.3H972.20V574.6H972.61V569.5H973.02V566.6H973.44V564.0H973.85V550.4H974.26V552.9H974.68V532.3H975.09V520.4H975.50V537.5H975.92V550.0H976.33V556.7H976.74V568.0H977.16V584.8H977.57V578.3H977.98V590.5H978.40V575.7H978.81V571.3H979.22V562.5H979.64V544.8H980.05V546.7H980.46V530.6H980.88V522.6H981.29V516.6H981.70V525.0H982.12V519.9H982.53V516.7H982.95V504.4H983.36V504.4H983.77V506.5H984.19V499.2H984.60V498.4H985.01V517.5H985.43V491.4H985.84V488.4H986.25V476.7H986.67V506.2H987.08V534.2H987.49V552.4H987.91V575.8H988.32V554.8H988.73V551.7H989.15V555.9H989.56V543.1H989.97V535.1H990.39V533.5H990.80V523.2H991.21V517.4H991.63V511.1H992.04V496.4H992.45V508.3H992.87V528.7H993.28V537.8H993.69V563.7H994.11V550.4H994.52V545.2H994.93V557.7H995.35V550.6H995.76V563.4H996.17V575.5H996.59V558.0H997.00V553.3H997.41V559.9H997.83V558.1H998.24V547.0H998.65V545.5H999.07V530.6H999.48V521.8H999.89V528.1H1000.31V536.9H1000.72V532.0H1001.13V546.1H1001.55V545.8H1001.96V546.8H1002.37V535.8H1002.79V565.6H1003.20V537.0H1003.61V543.2H1004.03V525.0H1004.44V527.7H1004.85V514.8H1005.27V536.3H1005.68V552.0H1006.09V565.6H1006.51V573.4H1006.92V580.2H1007.33V585.2H1007.75V587.1H1008.16V580.3H1008.57V581.1H1008.99V581.3H1009.40V641.3Z" fill="#0e1d36"/><rect x="944.6" y="434.5" width="0.8" height="206.8" fill="#0e1d36"/><rect x="984.2" y="394.9" width="0.8" height="246.4" fill="#0e1d36"/><rect x="983.5" y="429.5" width="0.8" height="211.8" fill="#0e1d36"/><rect x="990.1" y="430.1" width="0.8" height="211.2" fill="#0e1d36"/><rect x="993.8" y="446.8" width="0.8" height="194.5" fill="#0e1d36"/><rect x="864.7" y="173.2" width="0.8" height="468.1" fill="#0e1d36"/><rect x="893.6" y="310.0" width="0.8" height="331.3" fill="#0e1d36"/><rect x="784.2" y="485.7" width="0.8" height="155.6" fill="#0e1d36"/><rect x="815.2" y="526.9" width="0.8" height="114.4" fill="#0e1d36"/><rect x="794.7" y="529.9" width="0.8" height="111.4" fill="#0e1d36"/><rect x="829.6" y="409.9" width="0.8" height="231.4" fill="#0e1d36"/><rect x="844.1" y="372.0" width="0.8" height="269.3" fill="#0e1d36"/><rect x="634.7" y="469.7" width="0.8" height="171.6" fill="#0e1d36"/><rect x="743.4" y="469.7" width="0.8" height="171.6" fill="#0e1d36"/><rect x="655.7" y="416.8" width="0.8" height="224.5" fill="#0e1d36"/><rect x="549.1" y="525.0" width="0.8" height="116.3" fill="#0e1d36"/><rect x="232.8" y="611.5" width="0.8" height="29.8" fill="#0e1d36"/><rect x="944.3" y="434.8" width="0.8" height="206.5" fill="#0e1d36"/><rect x="661.0" y="363.0" width="0.8" height="278.3" fill="#0e1d36"/><rect x="670.0" y="396.9" width="0.8" height="244.4" fill="#0e1d36"/><rect x="856.5" y="138.2" width="0.8" height="503.1" fill="#0e1d36"/><rect x="854.2" y="150.0" width="0.8" height="491.3" fill="#0e1d36"/><rect x="859.2" y="157.0" width="0.8" height="484.3" fill="#0e1d36"/><rect x="703.7" y="510.5" width="0.8" height="130.8" fill="#0e1d36"/><rect x="713.6" y="500.6" width="0.8" height="140.7" fill="#0e1d36"/><rect x="720.6" y="507.7" width="0.8" height="133.6" fill="#0e1d36"/><rect x="724.8" y="502.0" width="0.8" height="139.3" fill="#0e1d36"/><rect x="733.9" y="527.4" width="0.8" height="113.9" fill="#0e1d36"/><rect x="774.2" y="517.6" width="0.8" height="123.7" fill="#0e1d36"/><rect x="784.7" y="486.5" width="0.8" height="154.8" fill="#0e1d36"/><rect x="794.8" y="529.7" width="0.8" height="111.6" fill="#0e1d36"/><rect x="815.1" y="526.9" width="0.8" height="114.4" fill="#0e1d36"/><rect x="825.0" y="537.3" width="0.8" height="104.0" fill="#0e1d36"/>
<rect x="1009.6" y="120.5" width="1.1" height="78" fill="#3a4352"/><rect x="1009.4" y="197" width="1.5" height="444.3" fill="#2f3a4a"/>
<path d="M142.9,563.1L143.5,563.1L144.1,564.9L144.7,566.3L145.4,567.0L146.0,566.2L146.5,566.2L146.6,566.1L147.2,566.7L147.8,562.6L148.5,561.9L148.7,562.7L149.1,563.0L149.7,563.2L150.3,564.1L150.9,563.6L151.6,562.0L152.2,561.3L152.8,558.1L153.0,559.0L153.4,558.1L154.0,558.2L154.7,557.0L155.3,556.5L155.9,556.6L156.5,553.9L157.1,552.9L157.8,551.0L158.1,552.3L158.4,555.2L159.0,555.6L159.6,556.9L160.2,562.1L160.9,564.1L161.5,568.1L161.7,567.8L162.1,574.5L162.4,579.0L162.7,581.0L163.3,579.7L164.0,577.9L164.6,576.7L165.2,575.3L165.3,575.3L165.8,577.9L166.4,580.7L167.1,580.1L167.7,579.9L168.2,582.1L168.3,582.8L168.9,583.5L169.5,579.6L170.2,579.0L170.8,577.9L171.4,579.5L172.0,579.5L172.6,577.3L173.2,577.3L173.3,575.6L173.9,578.5L174.5,576.4L175.1,579.6L175.7,579.9L176.4,583.1L177.0,583.6L177.6,581.9L178.2,582.1L178.8,582.6L179.0,583.2L179.5,582.2L180.1,583.4L180.7,585.2L181.3,582.3L181.9,583.4L182.6,586.4L183.2,586.5L183.3,585.3L183.8,584.0L184.4,583.0L185.0,582.4L185.7,581.6L186.3,584.6L186.9,584.0L187.5,582.5L188.1,580.8L188.8,581.5L189.4,581.5L189.8,582.2L190.0,585.5L190.6,586.0L191.2,588.7L191.9,592.8L192.5,595.3L193.1,596.6L193.7,596.5L194.2,599.9L194.3,602.0L195.0,602.5L195.6,601.3L196.2,601.7L196.8,600.8L197.4,600.8L197.8,602.3L198.1,599.8L198.7,600.9L199.3,600.5L199.9,599.0L200.5,598.6L201.2,597.3L201.8,595.4L202.4,592.4L203.0,592.8L203.5,591.4L203.6,593.3L204.3,593.5L204.9,594.9L205.5,593.2L206.1,592.2L206.7,595.5L207.4,594.3L208.0,595.5L208.6,595.6L209.2,596.3L209.8,596.5L210.5,596.6L210.8,597.5L211.1,594.7L211.7,597.8L212.3,595.6L212.9,591.0L213.6,590.0L214.2,588.5L214.8,587.7L215.1,588.5L215.4,586.7L216.0,589.2L216.7,591.7L217.3,589.9L217.9,590.7L218.5,590.9L219.1,588.2L219.8,591.0L220.4,587.7L220.9,589.2L221.0,588.4L221.6,589.2L222.2,592.2L222.9,591.8L223.5,591.5L224.1,590.7L224.7,592.0L225.3,592.6L226.0,594.1L226.6,595.8L226.6,594.1L227.2,594.5L227.8,592.4L228.4,590.7L229.1,592.2L229.7,590.0L230.3,588.3L230.9,589.4L231.5,588.5L232.2,586.8L232.8,584.6L233.4,582.5L233.9,582.4L234.0,583.9L234.6,582.6L235.3,584.4L235.9,582.5L236.5,583.3L237.1,584.1L237.7,584.2L238.4,584.4L239.0,584.9L239.6,582.9L240.2,582.4L240.8,583.7L241.1,584.5L241.5,587.8L242.1,587.4L242.7,586.9L243.3,587.9L243.9,590.1L244.0,590.4L244.6,592.1L245.2,590.1L245.8,591.0L246.4,590.8L247.0,589.8L247.7,588.6L248.3,589.3L248.9,588.6L249.5,590.2L249.7,589.9L250.1,587.7L250.8,591.2L251.4,592.2L252.0,592.5L252.6,593.9L253.2,593.6L253.9,590.4L254.5,592.1L255.1,593.5L255.7,592.6L256.3,591.8L257.0,593.6L257.0,594.1L257.6,594.2L258.2,592.4L258.8,591.6L259.4,590.5L260.1,589.6L260.7,589.6L261.3,590.8L261.9,586.8L262.5,586.9L263.2,589.3L263.8,587.8L264.2,586.6L264.4,587.1L265.0,588.7L265.6,587.0L266.3,586.6L266.9,587.0L267.5,587.8L268.1,590.5L268.7,592.8L269.4,592.2L270.0,592.1L270.6,594.1L271.2,595.6L271.4,595.2L271.8,595.2L272.5,591.5L273.1,591.8L273.7,590.5L274.3,591.8L274.9,590.4L275.6,589.8L276.2,592.4L276.8,592.5L277.2,590.5L277.4,590.7L278.0,588.5L278.7,586.5L279.3,583.6L279.9,582.4L280.5,583.4L281.1,579.0L281.8,576.7L282.4,576.0L283.0,574.6L283.0,575.8L283.6,574.6L284.2,570.5L284.9,569.2L285.5,567.5L286.1,564.5L286.6,564.7L286.7,565.1L287.3,566.5L288.0,570.2L288.6,571.9L289.2,571.9L289.8,574.2L290.2,575.3L290.4,574.2L291.1,572.3L291.7,570.9L292.3,571.8L292.9,569.0L293.1,568.8L293.5,566.2L294.2,566.3L294.8,568.5L295.4,570.1L296.0,566.7L296.6,566.3L297.3,566.0L297.9,564.1L298.5,565.9L299.0,565.8L299.1,565.3L299.7,564.2L300.4,564.7L301.0,561.1L301.6,560.3L302.2,559.1L302.8,555.5L303.5,553.2L304.0,552.6L304.1,554.9L304.7,555.3L305.3,555.0L305.9,553.5L306.6,556.3L307.2,557.1L307.8,559.1L308.0,557.6L308.4,559.1L309.0,558.5L309.7,557.4L310.3,556.6L310.9,555.2L311.0,555.7L311.5,557.6L312.1,559.5L312.8,561.8L313.4,564.3L314.0,564.4L314.0,564.9L314.6,562.4L315.2,562.9L315.9,563.4L315.9,561.6L316.5,562.3L317.1,565.2L317.7,567.8L318.3,570.0L318.9,571.2L319.0,571.9L319.6,570.5L320.2,569.7L320.8,571.6L321.4,571.1L322.1,567.0L322.7,565.3L323.3,567.0L323.9,565.6L324.5,565.0L324.9,565.5L325.2,563.5L325.8,565.9L326.4,566.3L327.0,565.9L327.6,568.0L328.3,569.7L328.9,569.9L329.5,570.2L330.1,568.3L330.7,569.4L331.4,568.9L331.9,568.9L332.0,570.6L332.6,570.1L333.2,568.9L333.8,569.2L334.5,567.3L335.1,568.7L335.7,570.0L336.3,567.7L336.9,568.1L337.6,564.8L337.9,566.2L338.2,567.6L338.8,568.9L339.4,566.8L340.0,570.3L340.7,569.4L341.3,566.7L341.9,566.8L342.5,570.0L342.9,570.0L343.1,569.0L343.8,569.6L344.4,565.1L345.0,564.8L345.6,565.5L345.9,564.2L346.2,563.0L346.9,563.8L347.5,562.3L348.1,562.5L348.7,562.2L349.3,563.5L350.0,559.6L350.6,560.9L350.9,560.1L351.2,562.8L351.8,561.2L352.4,563.2L353.1,567.2L353.7,568.6L354.3,565.2L354.9,568.1L354.9,567.6L355.5,566.3L356.2,568.1L356.8,567.1L357.4,567.0L358.0,566.4L358.6,567.7L358.8,567.8L359.3,566.9L359.9,565.7L360.5,566.1L361.1,567.0L361.7,565.2L362.4,567.3L363.0,563.8L363.6,565.3L364.2,564.5L364.8,564.7L364.8,566.9L365.5,565.1L366.1,564.6L366.7,563.8L367.3,568.6L367.9,568.5L368.6,566.3L369.2,566.9L369.8,566.5L370.4,570.2L370.8,569.3L371.0,570.1L371.7,566.7L372.3,568.8L372.9,570.7L373.5,570.1L374.1,570.8L374.8,570.3L375.4,570.7L376.0,571.0L376.6,569.9L376.8,570.6L377.2,572.5L377.9,574.7L378.5,576.5L379.1,577.6L379.7,578.8L379.8,580.3L380.3,580.4L381.0,581.7L381.6,578.1L382.2,578.8L382.8,581.8L383.4,582.1L384.1,579.8L384.7,581.9L385.3,579.2L385.9,578.5L386.5,582.2L386.8,580.5L387.2,580.0L387.8,579.6L388.4,577.5L389.0,577.7L389.6,577.6L390.3,579.1L390.9,577.7L391.5,580.9L392.1,580.0L392.7,579.3L393.4,579.1L394.0,581.0L394.6,582.9L395.2,580.8L395.8,583.0L396.5,583.0L397.1,583.1L397.7,582.0L398.3,579.0L398.7,580.3L398.9,580.9L399.6,579.1L400.2,578.7L400.8,575.3L401.4,575.5L402.0,575.7L402.7,573.5L402.7,574.4L403.3,574.9L403.9,577.6L404.5,576.6L405.1,575.0L405.8,578.2L406.4,573.7L407.0,574.1L407.6,576.3L408.2,575.7L408.7,576.5L408.9,574.5L409.5,576.6L410.1,578.3L410.7,576.7L411.3,579.5L412.0,579.3L412.6,580.3L413.2,576.9L413.8,578.0L414.4,580.9L414.7,579.5L415.1,579.7L415.7,577.3L416.3,573.2L416.7,571.1L416.9,571.4L417.5,570.2L418.2,572.4L418.8,570.6L419.4,571.3L420.0,569.0L420.6,569.1L421.3,573.3L421.9,572.4L422.5,572.4L422.7,572.0L423.1,569.9L423.7,572.0L424.4,575.9L425.0,572.8L425.6,572.3L425.7,574.1L426.2,572.7L426.8,571.5L427.5,570.9L428.1,568.4L428.7,567.0L429.3,565.8L429.9,567.2L430.6,566.0L430.7,565.8L431.2,566.0L431.8,562.4L432.4,562.8L433.0,560.6L433.7,559.8L434.3,559.9L434.7,558.3L434.9,558.5L435.5,558.0L436.1,556.2L436.8,558.2L437.4,560.1L438.0,558.9L438.6,559.5L439.2,557.8L439.9,558.1L440.5,560.5L440.6,560.8L441.1,562.3L441.7,560.2L442.3,557.1L443.0,557.6L443.6,556.1L444.2,556.7L444.8,559.9L445.4,558.3L445.6,557.2L446.1,541.1L446.6,521.0L446.7,522.6L447.3,521.9L447.9,523.2L448.5,524.0L449.2,525.2L449.6,525.2L449.8,521.8L450.4,519.8L451.0,516.5L451.6,508.3L452.3,504.0L452.9,499.9L453.2,499.2L453.5,501.8L454.1,502.2L454.7,504.1L455.4,505.4L455.4,504.6L456.0,507.0L456.6,506.0L457.2,506.4L457.8,508.7L458.5,510.5L459.1,511.8L459.7,512.6L459.8,512.2L460.3,510.0L460.9,510.0L461.6,507.9L462.2,506.8L462.8,500.5L463.1,501.3L463.4,500.0L464.0,491.7L464.7,488.3L465.3,482.4L465.3,482.9L465.9,484.2L466.5,484.9L467.1,486.2L467.5,487.5L467.8,487.6L468.4,487.9L469.0,486.1L469.6,484.5L470.2,484.6L470.9,486.5L471.5,484.9L472.1,486.1L472.7,485.1L473.0,485.4L473.3,478.1L474.0,469.7L474.1,466.0L474.6,463.5L475.2,455.5L475.7,450.5L475.8,450.6L476.4,452.7L477.1,450.6L477.4,452.0L477.7,448.7L478.3,446.8L478.9,442.7L479.5,436.1L480.2,430.3L480.7,426.8L480.8,428.5L481.4,439.3L481.8,449.7L482.0,447.4L482.6,443.7L483.3,437.8L483.9,435.9L484.0,434.9L484.5,437.4L485.1,440.1L485.7,438.6L486.2,441.0L486.4,436.5L487.0,424.8L487.6,412.5L488.0,406.6L488.2,410.0L488.8,408.4L489.5,409.7L490.1,411.8L490.6,412.9L490.7,413.8L491.3,418.0L491.9,417.3L492.6,421.6L493.2,423.6L493.8,424.0L493.9,425.6L494.4,422.2L495.0,415.8L495.7,415.1L496.3,408.4L496.8,405.0L496.9,407.4L497.5,414.3L498.1,417.5L498.3,419.4L498.8,421.3L499.4,427.0L500.0,430.3L500.5,435.5L500.6,436.1L501.2,431.2L501.9,425.1L502.5,420.0L502.7,419.0L503.1,421.0L503.7,420.1L504.3,425.5L505.0,424.8L505.6,426.5L506.1,428.1L506.2,426.2L506.8,427.4L507.4,425.2L508.1,423.6L508.7,420.8L509.3,417.6L509.9,417.1L510.5,413.6L510.5,414.7L511.2,414.6L511.8,415.0L512.4,415.6L513.0,415.3L513.6,414.8L514.3,412.8L514.9,417.8L515.5,414.7L516.0,415.8L516.1,414.3L516.7,417.0L517.4,423.3L518.0,425.6L518.2,424.6L518.6,423.7L519.2,424.0L519.8,423.5L520.5,420.9L521.1,421.8L521.7,422.9L522.3,424.5L522.6,423.3L522.9,415.2L523.6,403.8L524.2,393.5L524.8,385.7L524.8,386.2L525.4,389.1L526.0,391.8L526.7,394.3L527.3,396.1L527.9,396.8L528.1,399.0L528.5,396.2L529.1,392.2L529.8,388.2L530.4,384.8L531.0,377.0L531.4,375.1L531.6,372.7L532.2,372.0L532.9,376.0L533.5,372.3L534.1,372.5L534.7,371.5L535.3,371.8L536.0,372.3L536.6,369.2L536.9,368.8L537.2,366.6L537.8,362.1L538.4,359.3L539.1,356.4L539.5,353.4L539.7,351.6L540.3,353.4L540.9,353.2L541.4,350.9L541.5,351.8L542.2,351.7L542.8,352.0L543.4,353.1L543.4,349.8L544.0,336.3L544.6,318.6L545.3,302.6L545.3,302.0L545.9,302.1L546.5,298.4L546.9,298.2L547.1,289.4L547.7,270.9L547.9,266.6L548.4,295.6L548.8,318.7L549.0,318.1L549.6,320.9L550.2,319.9L550.8,321.8L551.2,322.0L551.5,334.0L551.8,344.6L552.1,337.6L552.7,329.8L553.1,322.2L553.3,321.3L553.9,310.5L554.6,301.0L554.7,298.7L555.2,303.8L555.8,315.8L556.4,322.9L556.6,325.1L557.0,319.3L557.7,315.5L558.3,307.0L558.9,301.4L559.0,301.9L559.5,299.6L560.1,302.9L560.8,303.6L561.4,300.7L561.9,300.4L562.0,298.4L562.6,292.0L563.2,285.7L563.3,286.4L563.9,284.9L564.5,284.6L564.8,281.7L565.1,278.9L565.7,276.9L566.3,271.0L566.8,270.5L567.0,277.2L567.6,291.0L567.8,294.7L568.2,286.4L568.7,278.7L568.8,281.2L569.4,281.0L570.1,283.9L570.7,283.6L570.7,285.4L571.3,290.3L571.9,292.5L572.5,297.8L572.6,298.5L573.2,297.3L573.8,294.6L574.4,294.8L575.0,290.2L575.6,288.7L575.6,290.2L576.3,291.6L576.9,287.6L577.5,287.9L578.1,288.4L578.5,290.1L578.7,288.0L579.4,286.8L580.0,283.7L580.6,281.2L581.2,277.7L581.8,275.2L582.4,273.0L582.5,273.5L583.1,272.3L583.7,268.4L584.3,266.8L584.9,264.0L585.6,262.7L585.9,262.2L586.2,261.6L586.8,267.9L587.4,271.8L588.0,274.1L588.7,276.2L589.2,279.7L589.3,278.8L589.9,277.2L590.5,274.9L591.1,277.7L591.8,277.3L592.4,272.6L593.0,270.3L593.1,271.6L593.6,273.5L594.2,275.8L594.9,274.3L595.5,275.3L596.0,278.3L596.1,279.0L596.7,276.7L597.3,280.6L598.0,279.1L598.6,279.5L599.2,279.6L599.8,278.9L600.4,279.4L600.9,279.8L601.1,280.1L601.7,285.1L602.3,286.7L602.9,288.9L602.9,289.9L603.5,299.3L604.2,309.1L604.8,319.0L604.8,320.5L605.4,312.7L605.8,308.1L606.0,310.6L606.6,310.5L607.3,309.2L607.9,310.2L608.5,310.1L609.1,308.7L609.7,307.6L610.4,305.8L610.7,306.8L611.0,303.9L611.6,297.3L612.2,289.3L612.6,287.1L612.8,284.7L613.5,287.5L614.1,284.7L614.7,283.0L615.3,280.9L615.9,278.0L616.6,277.3L617.2,276.8L617.5,274.7L617.8,275.9L618.4,279.6L619.0,283.7L619.4,284.4L619.7,284.4L620.3,286.4L620.9,286.9L621.5,290.2L622.1,291.0L622.8,294.6L623.3,295.1L623.4,293.9L624.0,294.7L624.6,290.7L625.2,287.1L625.9,284.4L626.5,284.5L627.1,280.9L627.7,282.3L628.3,280.3L629.0,277.5L629.2,275.6L629.6,274.9L630.2,277.9L630.8,279.3L631.4,280.2L632.1,284.5L632.1,284.8L632.7,285.6L633.3,281.3L633.9,280.7L634.5,279.9L635.0,276.8L635.2,275.5L635.8,275.4L636.4,276.2L637.0,276.8L637.6,274.6L638.0,275.6L638.3,277.0L638.9,279.2L639.5,283.1L640.1,282.1L640.7,284.7L640.9,286.4L641.4,286.9L642.0,289.2L642.6,292.7L643.2,293.1L643.8,298.1L644.5,297.3L644.8,298.4L645.1,303.0L645.7,310.7L646.3,317.9L646.4,316.7L646.9,318.1L647.6,318.2L648.2,320.1L648.8,323.3L649.4,324.6L649.7,325.0L650.0,321.6L650.7,314.6L651.3,305.4L651.6,302.1L651.9,299.7L652.5,300.7L653.1,296.6L653.8,292.2L654.4,294.2L654.6,292.3L655.0,293.2L655.6,294.9L656.2,300.2L656.5,300.7L656.9,294.3L657.5,285.8L658.1,280.5L658.5,275.4L658.7,273.9L659.3,276.4L660.0,274.2L660.0,273.5L660.6,276.2L661.2,275.4L661.8,275.5L662.4,274.9L663.1,275.7L663.7,276.0L663.7,276.7L664.3,260.0L664.9,243.5L665.5,222.9L665.8,216.7L666.2,215.7L666.8,216.1L667.4,220.7L668.0,220.5L668.6,221.1L668.9,221.3L669.3,221.0L669.9,222.0L670.5,221.1L671.1,221.2L671.7,219.5L672.4,218.6L673.0,218.1L673.0,218.2L673.6,207.0L674.2,200.9L674.7,193.7L674.8,191.8L675.5,193.2L676.1,197.2L676.7,198.7L677.2,199.7L677.3,200.7L677.9,201.2L678.6,200.6L679.2,200.0L679.8,197.5L680.2,196.7L680.4,199.5L681.0,198.7L681.7,200.9L682.3,204.7L682.9,205.5L683.3,206.9L683.5,207.0L684.1,207.5L684.8,210.8L685.4,207.5L686.0,211.9L686.6,213.7L687.2,213.3L687.5,213.2L687.9,215.9L688.5,216.5L689.1,221.7L689.7,225.6L690.3,225.4L691.0,230.7L691.6,232.1L691.6,231.8L692.2,226.6L692.8,221.3L693.4,216.9L694.1,210.6L694.7,205.5L694.7,207.1L695.3,210.4L695.9,210.3L696.5,211.7L696.8,211.3L697.2,213.6L697.8,216.4L698.4,216.2L699.0,218.7L699.6,223.7L699.9,224.4L700.3,224.1L700.9,218.6L701.5,215.7L701.9,214.7L702.1,211.5L702.7,209.1L703.4,204.8L704.0,199.8L704.4,196.6L704.6,197.2L705.2,202.8L705.8,207.2L706.5,210.6L707.1,215.8L707.1,216.2L707.7,215.2L708.3,217.2L708.9,217.4L709.6,215.6L710.2,216.8L710.8,216.5L711.2,216.2L711.4,216.1L712.0,218.1L712.7,220.0L713.3,222.7L713.9,227.5L714.3,229.4L714.5,230.1L715.1,225.0L715.8,222.3L716.4,219.3L716.4,219.9L717.0,225.7L717.6,230.4L718.2,236.5L718.9,241.2L719.5,244.6L719.5,243.6L720.1,246.3L720.7,245.4L721.3,248.5L721.5,249.8L722.0,252.5L722.6,257.3L723.2,260.1L723.8,265.2L724.4,270.1L724.6,269.5L725.1,264.3L725.7,258.2L726.3,253.6L726.7,250.2L726.9,251.8L727.5,253.8L728.2,257.0L728.8,256.6L729.4,260.9L729.8,261.7L730.0,262.5L730.6,260.4L731.3,257.1L731.9,253.3L732.5,251.3L733.1,248.3L733.7,243.3L734.4,241.5L734.9,240.4L735.0,240.2L735.6,239.9L736.2,239.1L736.8,239.9L737.5,240.0L738.0,240.6L738.1,240.8L738.7,242.7L739.3,245.0L739.9,248.2L740.6,249.2L741.1,250.4L741.2,251.3L741.8,252.3L742.4,254.9L743.0,259.3L743.7,264.6L744.3,267.2L744.9,269.9L745.3,272.6L745.5,273.7L746.1,283.8L746.8,289.8L747.4,297.8L747.7,301.8L748.0,302.3L748.6,299.2L749.2,297.5L749.9,293.0L750.5,291.2L751.1,288.4L751.5,285.7L751.7,284.7L752.3,284.6L753.0,283.4L753.6,282.0L754.2,283.2L754.8,281.8L755.4,284.7L756.1,281.8L756.7,280.8L757.3,281.2L757.6,281.1L757.9,281.1L758.5,283.6L759.2,284.7L759.8,285.2L760.4,287.0L761.0,288.9L761.6,294.6L761.8,294.0L762.3,293.7L762.9,291.9L763.5,289.6L764.1,288.4L764.7,287.9L765.4,284.4L765.9,284.7L766.0,283.4L766.6,283.7L767.2,287.3L767.8,285.4L768.5,288.3L769.0,287.7L769.1,286.3L769.7,283.1L770.3,275.6L770.9,269.4L771.6,265.5L772.1,259.1L772.2,260.5L772.8,260.3L773.4,257.0L774.0,259.1L774.7,259.8L775.3,257.8L775.9,256.4L776.5,254.9L777.1,257.3L777.3,256.6L777.8,259.7L778.4,262.3L779.0,263.4L779.6,270.0L780.2,273.3L780.9,275.1L781.4,277.2L781.5,280.4L782.1,282.9L782.7,290.2L783.3,293.6L784.0,302.0L784.6,306.0L785.2,313.3L785.5,314.7L785.8,312.5L786.4,309.8L787.1,307.8L787.7,301.9L788.3,299.1L788.6,297.6L788.9,297.2L789.5,300.8L790.2,300.9L790.8,302.3L791.4,304.1L792.0,307.7L792.6,306.7L792.7,307.7L793.3,303.3L793.9,298.1L794.5,292.7L794.8,291.1L795.1,290.6L795.7,292.6L796.4,294.6L797.0,293.5L797.6,296.6L798.2,296.4L798.8,298.9L799.5,303.2L800.0,302.5L800.1,300.7L800.7,299.0L801.3,296.7L801.9,296.4L802.6,292.8L803.1,291.4L803.2,290.4L803.8,296.6L804.4,304.6L805.0,311.6L805.1,312.1L805.7,311.4L806.3,306.8L806.9,305.3L807.5,300.4L808.1,300.5L808.8,296.7L809.4,292.7L810.0,290.9L810.6,290.6L811.2,285.1L811.3,285.1L811.9,282.5L812.5,281.5L813.1,280.5L813.7,281.1L814.3,281.4L815.0,280.2L815.6,279.8L816.2,280.6L816.8,278.1L817.4,275.3L817.5,276.5L818.1,272.7L818.7,272.6L819.3,269.8L819.9,268.1L820.5,267.2L820.6,266.8L821.2,267.0L821.8,263.7L822.4,263.1L823.0,264.1L823.6,263.8L824.3,265.3L824.9,263.1L825.5,260.4L825.8,261.8L826.1,263.4L826.7,260.1L827.4,259.8L828.0,261.6L828.6,260.0L829.2,263.8L829.8,262.4L830.5,262.2L831.1,260.6L831.7,263.0L832.0,261.2L832.3,257.1L832.9,246.5L833.6,240.4L834.1,232.6L834.2,229.6L834.8,227.5L835.4,226.5L836.0,224.3L836.7,220.3L837.2,219.3L837.3,222.0L837.9,224.1L838.5,222.8L839.1,225.4L839.8,225.9L840.2,227.7L840.4,225.5L841.0,220.8L841.6,213.4L842.2,206.0L842.3,205.3L842.9,204.7L843.5,202.0L844.1,204.1L844.7,201.3L845.3,202.9L845.4,201.7L846.0,201.8L846.6,202.0L847.2,205.5L847.8,205.3L848.4,204.6L848.5,205.1L849.1,189.6L849.7,175.0L850.3,160.7L850.6,152.3L850.9,150.8L851.5,144.8L852.2,138.7L852.6,136.6L852.8,133.3L853.4,125.3L854.0,117.3L854.1,116.5L854.6,116.3L855.3,119.6L855.7,119.1L855.9,117.5L856.5,116.2L857.1,117.1L857.4,116.6L857.7,121.0L858.4,126.1L858.8,130.9L859.0,132.8L859.6,131.7L860.2,137.0L860.8,139.4L860.9,137.9L861.5,145.4L862.1,150.2L862.7,157.8L863.0,158.5L863.3,165.1L863.9,177.0L864.6,185.8L865.0,193.0L865.2,196.8L865.8,209.7L866.0,213.8L866.4,207.4L867.0,202.4L867.7,199.5L868.3,188.7L868.9,184.7L869.1,182.5L869.5,188.5L870.1,195.6L870.8,202.7L871.2,207.5L871.4,212.0L872.0,219.0L872.6,223.4L873.2,231.6L873.3,233.5L873.9,248.2L874.3,260.3L874.5,260.1L875.1,258.6L875.7,257.8L876.3,259.6L876.8,257.2L877.0,258.1L877.6,274.6L878.2,288.6L878.4,292.1L878.8,290.7L879.4,286.0L880.1,282.1L880.7,278.7L881.3,274.9L881.5,273.2L881.9,281.0L882.5,296.3L883.2,308.2L883.6,318.2L883.8,311.6L884.4,290.8L884.6,284.2L885.0,282.7L885.6,285.3L886.3,285.4L886.9,284.1L887.5,285.6L887.7,286.2L888.1,286.8L888.7,294.5L889.4,298.4L889.8,300.4L890.0,304.9L890.6,310.7L891.2,320.1L891.8,326.2L892.3,332.7L892.5,335.2L893.1,348.5L893.7,362.0L893.9,366.1L894.3,383.5L894.8,399.5L894.9,402.7L895.6,415.4L895.6,414.4L896.2,405.5L896.8,392.3L897.2,385.6L897.4,388.5L898.0,397.4L898.7,410.9L898.9,412.8L899.3,404.4L899.9,394.3L900.5,383.2L901.1,370.1L901.4,366.1L901.8,362.9L902.4,360.1L903.0,356.2L903.0,355.1L903.6,355.5L904.2,357.2L904.9,360.8L905.5,362.6L905.5,362.8L906.1,360.1L906.7,350.8L907.1,348.9L907.3,351.6L908.0,355.6L908.6,364.3L909.2,370.3L909.6,373.0L909.8,372.4L910.4,371.6L911.1,367.0L911.3,366.1L911.7,375.7L912.3,389.5L912.9,405.1L912.9,403.5L913.5,391.7L914.2,379.9L914.6,371.2L914.8,372.4L915.4,368.3L916.0,364.8L916.6,362.8L917.3,360.5L917.9,359.1L917.9,358.5L918.5,360.2L919.1,361.2L919.7,363.8L920.3,365.8L920.4,365.4L921.0,372.0L921.6,376.5L922.2,384.4L922.8,390.6L922.8,391.1L923.5,387.5L924.1,381.8L924.7,376.2L925.3,373.7L925.3,372.1L925.9,375.4L926.6,379.3L927.2,383.3L927.8,387.1L927.8,385.2L928.4,389.6L929.0,389.1L929.4,391.7L929.7,388.5L930.3,383.6L930.9,381.0L931.5,377.8L931.9,373.3L932.1,371.1L932.8,366.4L933.4,361.9L934.0,357.9L934.4,355.9L934.6,356.1L935.2,359.8L935.9,357.6L936.5,358.9L937.1,358.9L937.7,360.7L937.7,359.7L938.3,346.5L939.0,335.4L939.3,328.2L939.6,325.5L940.2,326.8L940.8,323.1L941.4,317.3L942.1,317.3L942.6,314.9L942.7,315.1L943.3,320.6L943.9,329.4L944.3,333.0L944.5,331.3L945.2,330.8L945.8,327.4L946.4,327.0L946.7,325.1L947.0,327.6L947.6,332.4L948.3,336.8L948.9,340.6L949.5,344.9L950.0,349.3L950.1,349.4L950.7,346.3L951.4,341.1L952.0,339.9L952.6,336.1L952.7,333.6L953.2,330.6L953.8,331.1L954.5,328.4L955.1,326.8L955.7,323.6L956.3,324.9L956.9,320.6L957.6,319.1L957.9,318.3L958.2,317.4L958.8,321.2L959.4,321.4L960.0,318.2L960.7,318.5L961.3,320.0L961.9,319.5L962.5,319.6L963.1,320.3L963.1,318.0L963.8,315.0L964.4,309.0L965.0,306.8L965.6,304.0L966.2,298.5L966.2,298.0L966.9,298.8L967.5,296.5L968.1,293.4L968.7,292.0L969.2,291.4L969.3,290.3L970.0,293.6L970.6,297.0L971.2,299.8L971.8,300.4L972.3,302.0L972.4,302.2L973.1,314.9L973.7,329.5L974.3,340.2L974.9,351.0L975.0,352.6L975.5,347.4L976.2,345.0L976.8,343.6L977.4,338.7L978.0,338.3L978.6,333.3L979.3,328.9L979.6,328.3L979.9,325.3L980.5,322.0L981.1,319.9L981.7,314.2L982.4,308.1L983.0,305.6L983.6,302.9L983.7,302.1L984.2,306.8L984.8,306.5L985.5,312.1L986.1,314.8L986.7,317.2L986.8,316.7L987.3,315.0L987.9,313.3L988.6,312.0L989.2,313.9L989.8,312.9L989.9,312.4L990.4,316.2L991.0,319.3L991.7,320.2L992.3,322.1L992.9,326.7L993.5,325.7L994.0,328.4L994.1,328.3L994.8,331.2L995.4,334.1L996.0,337.6L996.6,339.3L997.2,344.6L997.9,344.5L998.1,346.9L998.5,343.7L999.1,339.8L999.7,336.5L1000.3,335.6L1001.0,333.2L1001.2,331.1L1001.6,330.4L1002.2,330.8L1002.8,330.1L1003.4,327.5L1004.1,326.9L1004.3,326.6L1004.7,327.9L1005.3,331.0L1005.9,330.1L1006.5,331.7L1007.2,333.4L1007.4,333.2L1007.8,328.9L1008.4,317.5L1008.9,308.5L1009.0,310.0L1009.6,306.3L1010.3,305.7L1010.5,306.0" fill="none" stroke="#5ad1c5" stroke-width="2.0" stroke-linejoin="round"/>


<path d="M199.4,65.8 A20.2,20.2 0 0 0 199.4,106.2" fill="none" stroke="#4fd5c7" stroke-width="7.6"/>
<path d="M199.4,65.8 A20.2,20.2 0 0 1 199.4,106.2" fill="none" stroke="#b6ede7" stroke-width="7.6"/>
<rect x="215.8" y="62" width="7.4" height="48" fill="#4fd5c7"/>


<rect x="913.2" y="54.7" width="83.6" height="30" rx="1.2" fill="#0e1d36"/>
<line x1="993" y1="86" x2="1005" y2="111" stroke="#0e1d36" stroke-width="1.3"/>
<polygon points="999,112.5 1009.5,108 1009.5,120" fill="#0e1d36"/>
<rect x="423.5" y="699.5" width="36" height="8" fill="#0e1d36"/>
<rect x="592" y="702.9" width="37.5" height="1.8" fill="#7fd6cb"/>
</svg>

<div class="t" style="left:400.7px;top:36.75px;font-size:19.9px;color:#1c1c1c;-webkit-text-stroke:0.55px #1c1c1c;">Ethereum: Hourly Transaction Fees</div>
<div class="t" style="left:239.5px;top:62.42px;font-size:21px;color:#2b3648;-webkit-text-stroke:0.15px #2b3648;letter-spacing:0.5px;">Arcane</div>
<div class="t" style="left:240.2px;top:84.72px;font-size:21px;color:#2b3648;-webkit-text-stroke:0.15px #2b3648;letter-spacing:0.4px;">Research</div>
<div class="t" style="right:1001.4px;top:78.21px;font-size:14.4px;-webkit-text-stroke:0.45px #262626;">$1,000,000</div>
<div class="t" style="right:1001.4px;top:133.81px;font-size:14.4px;-webkit-text-stroke:0.45px #262626;">$900,000</div>
<div class="t" style="right:1001.4px;top:189.41px;font-size:14.4px;-webkit-text-stroke:0.45px #262626;">$800,000</div>
<div class="t" style="right:1001.4px;top:245.01px;font-size:14.4px;-webkit-text-stroke:0.45px #262626;">$700,000</div>
<div class="t" style="right:1001.4px;top:300.61px;font-size:14.4px;-webkit-text-stroke:0.45px #262626;">$600,000</div>
<div class="t" style="right:1001.4px;top:356.21px;font-size:14.4px;-webkit-text-stroke:0.45px #262626;">$500,000</div>
<div class="t" style="right:1001.4px;top:411.81px;font-size:14.4px;-webkit-text-stroke:0.45px #262626;">$400,000</div>
<div class="t" style="right:1001.4px;top:467.41px;font-size:14.4px;-webkit-text-stroke:0.45px #262626;">$300,000</div>
<div class="t" style="right:1001.4px;top:523.01px;font-size:14.4px;-webkit-text-stroke:0.45px #262626;">$200,000</div>
<div class="t" style="right:1001.4px;top:578.61px;font-size:14.4px;-webkit-text-stroke:0.45px #262626;">$100,000</div>
<div class="t" style="right:1001.4px;top:634.21px;font-size:14.4px;-webkit-text-stroke:0.45px #262626;">$0</div>
<div class="t" style="left:1026.8px;top:77.52px;font-size:14.6px;-webkit-text-stroke:0.45px #262626;">$500</div>
<div class="t" style="left:1026.8px;top:170.19px;font-size:14.6px;-webkit-text-stroke:0.45px #262626;">$450</div>
<div class="t" style="left:1026.8px;top:262.86px;font-size:14.6px;-webkit-text-stroke:0.45px #262626;">$400</div>
<div class="t" style="left:1026.8px;top:355.53px;font-size:14.6px;-webkit-text-stroke:0.45px #262626;">$350</div>
<div class="t" style="left:1026.8px;top:448.20px;font-size:14.6px;-webkit-text-stroke:0.45px #262626;">$300</div>
<div class="t" style="left:1026.8px;top:540.87px;font-size:14.6px;-webkit-text-stroke:0.45px #262626;">$250</div>
<div class="t" style="left:1026.8px;top:633.54px;font-size:14.6px;-webkit-text-stroke:0.45px #262626;">$200</div>
<div class="t" style="left:-7.3px;width:300px;text-align:center;top:656.10px;font-size:15.0px;-webkit-text-stroke:0.45px #262626;">22 Jun</div>
<div class="t" style="left:76.2px;width:300px;text-align:center;top:656.10px;font-size:15.0px;-webkit-text-stroke:0.45px #262626;">1 Jul</div>
<div class="t" style="left:159.8px;width:300px;text-align:center;top:656.10px;font-size:15.0px;-webkit-text-stroke:0.45px #262626;">9 Jul</div>
<div class="t" style="left:243.3px;width:300px;text-align:center;top:656.10px;font-size:15.0px;-webkit-text-stroke:0.45px #262626;">17 Jul</div>
<div class="t" style="left:326.9px;width:300px;text-align:center;top:656.10px;font-size:15.0px;-webkit-text-stroke:0.45px #262626;">26 Jul</div>
<div class="t" style="left:410.5px;width:300px;text-align:center;top:656.10px;font-size:15.0px;-webkit-text-stroke:0.45px #262626;">3 Aug</div>
<div class="t" style="left:494.0px;width:300px;text-align:center;top:656.10px;font-size:15.0px;-webkit-text-stroke:0.45px #262626;">11 Aug</div>
<div class="t" style="left:577.5px;width:300px;text-align:center;top:656.10px;font-size:15.0px;-webkit-text-stroke:0.45px #262626;">20 Aug</div>
<div class="t" style="left:661.1px;width:300px;text-align:center;top:656.10px;font-size:15.0px;-webkit-text-stroke:0.45px #262626;">28 Aug</div>
<div class="t" style="left:744.6px;width:300px;text-align:center;top:656.10px;font-size:15.0px;-webkit-text-stroke:0.45px #262626;">5 Sep</div>
<div class="t" style="left:828.2px;width:300px;text-align:center;top:656.10px;font-size:15.0px;-webkit-text-stroke:0.45px #262626;">14 Sep</div>
<div class="t" style="left:39.6px;top:363px;font-size:14.8px;-webkit-text-stroke:0.45px #262626;transform:translate(-50%,-50%) rotate(-90deg)">Hourly Fees</div>
<div class="t" style="left:1077px;top:363px;font-size:14.5px;-webkit-text-stroke:0.45px #262626;transform:translate(-50%,-50%) rotate(-90deg)">ETH Price</div>
<div class="t" style="left:463.2px;top:696.45px;font-size:14.0px;-webkit-text-stroke:0.45px #262626;">ETH Fees (USD)</div>
<div class="t" style="left:633.5px;top:696.36px;font-size:14.1px;-webkit-text-stroke:0.45px #262626;">ETH Price</div>
<div class="t" style="left:920.1px;top:63.46px;font-size:16.7px;color:#f2f2f2;-webkit-text-stroke:0.3px #f2f2f2;">$938,030</div>
</body></html>
